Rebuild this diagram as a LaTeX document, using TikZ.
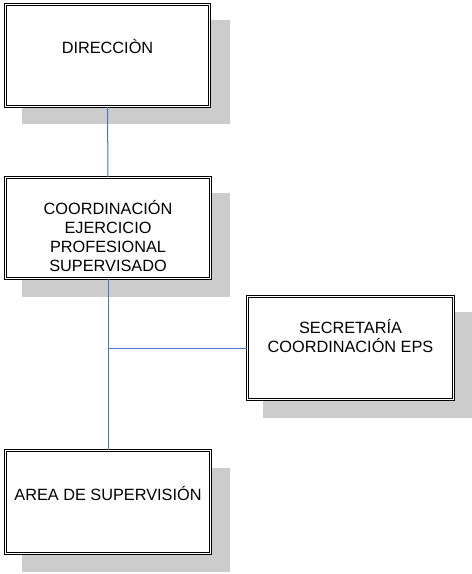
\documentclass[tikz,border=0pt]{standalone}
\usepackage{fontspec}
\setmainfont{Liberation Sans}
\usepackage{tikz}
\usetikzlibrary{positioning}

\definecolor{linkblue}{RGB}{68,116,204}
\definecolor{shadowgray}{RGB}{204,204,204}

\tikzset{
  orgbox/.style={draw=black, double=white, double distance=1.6pt, line width=0.75pt,
    fill=white, inner sep=0pt},
  orgshadow/.style={fill=shadowgray},
  orgtext/.style={align=center, inner sep=0pt,
    font=\fontsize{16.3}{19.3}\selectfont},
  link/.style={draw=linkblue, line width=1pt},
}

\begin{document}
\begin{tikzpicture}[x=1pt,y=-1pt]
\useasboundingbox (0,0) rectangle (472,574);
% Shadows
\path[orgshadow] (22,20) rectangle (230,124);
\path[orgshadow] (22,193) rectangle (230,297);
\path[orgshadow] (263,312) rectangle (472,418);
\path[orgshadow] (22,468) rectangle (230,572);
% Boxes
\node[orgbox, minimum width=204pt, minimum height=102pt] (dir) at (107.5,55.5) {};
\node[orgbox, minimum width=205pt, minimum height=101pt] (coord) at (108,228) {};
\node[orgbox, minimum width=206pt, minimum height=103pt] (sec) at (350.5,348) {};
\node[orgbox, minimum width=205pt, minimum height=103pt] (area) at (108,502) {};
% Texts
\node[orgtext] (dirtxt) at ([yshift=9pt]dir.center) {DIRECCIÒN};
\node[orgtext] (coordtxt) at ([yshift=-8pt]coord.center)
  {COORDINACIÓN\\EJERCICIO\\PROFESIONAL\\SUPERVISADO};
\node[orgtext] (sectxt) at ([yshift=12pt]sec.center)
  {SECRETARÍA\\COORDINACIÓN EPS};
\node[orgtext] (areatxt) at ([yshift=8pt]area.center) {AREA DE SUPERVISIÓN};
% Connectors
\draw[link] (dir.south) -- (coord.north);
\draw[link] (coord.south) -- (area.north);
\draw[link] (sec.west) -- (sec.west -| coord.south);
\end{tikzpicture}
\end{document}
